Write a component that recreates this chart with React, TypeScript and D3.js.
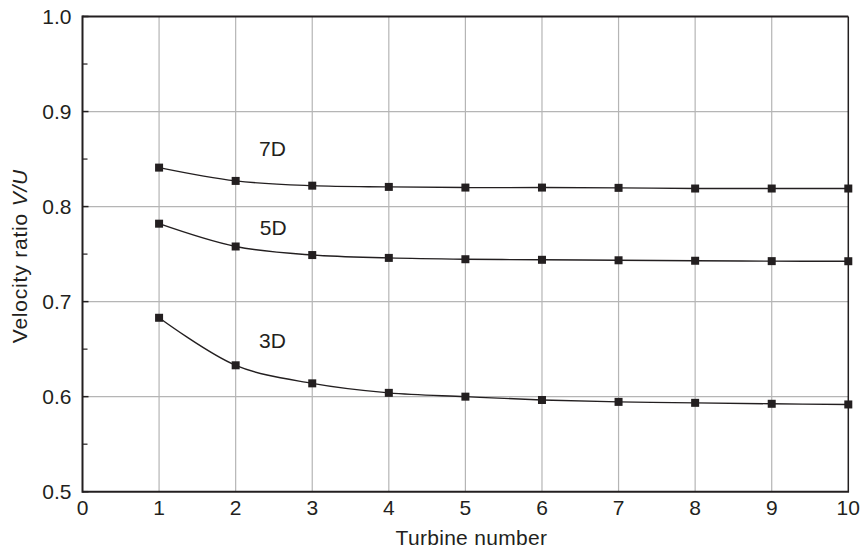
import React from "react";
import * as d3 from "d3";

const turbines = [1, 2, 3, 4, 5, 6, 7, 8, 9, 10];
const spacing7D = [0.841, 0.827, 0.822, 0.8207, 0.820, 0.820, 0.8197, 0.819, 0.819, 0.819];
const spacing5D = [0.782, 0.758, 0.749, 0.746, 0.7446, 0.744, 0.7435, 0.743, 0.7426, 0.7425];
const spacing3D = [0.683, 0.633, 0.614, 0.604, 0.600, 0.5965, 0.5945, 0.5935, 0.5925, 0.5918];
const seriesNames = ["7D", "5D", "3D"];
const labelPos = [
  [2.48, 0.853],
  [2.49, 0.770],
  [2.48, 0.651],
];
const xTicks = [0, 1, 2, 3, 4, 5, 6, 7, 8, 9, 10];
const yTicks = [0.5, 0.6, 0.7, 0.8, 0.9, 1.0];
const yMinorTicks = [0.55, 0.65, 0.75, 0.85, 0.95];

const W = 862;
const H = 551;
const left = 82.5;
const right = 848.3;
const top = 16.5;
const bottom = 491.7;

export default function App() {
  const x = d3.scaleLinear().domain([0, 10]).range([left, right]);
  const y = d3.scaleLinear().domain([0.5, 1.0]).range([bottom, top]);
  const line = d3
    .line<number>()
    .x((_, i) => x(turbines[i]))
    .y((d) => y(d))
    .curve(d3.curveCatmullRom.alpha(0.5));
  const allSeries = [spacing7D, spacing5D, spacing3D];
  const font = "'Liberation Sans', Arial, Helvetica, sans-serif";
  const ink = "#231f20";
  return (
    <svg
      width={W}
      height={H}
      style={{ position: "absolute", left: 0, top: 0, background: "#fff" }}
      fontFamily={font}
    >
      <rect x={0} y={0} width={W} height={H} fill="#fff" />
      {/* grid */}
      {xTicks.slice(1, -1).map((t) => (
        <line key={"gx" + t} x1={x(t)} x2={x(t)} y1={top} y2={bottom} stroke="#b5b5b5" strokeWidth={1.2} />
      ))}
      {yTicks.slice(1, -1).map((t) => (
        <line key={"gy" + t} x1={left} x2={right} y1={y(t)} y2={y(t)} stroke="#b5b5b5" strokeWidth={1.2} />
      ))}
      {/* frame */}
      <line x1={right} x2={right} y1={top} y2={bottom} stroke={ink} strokeWidth={1.5} />
      <line x1={left} x2={right} y1={top} y2={top} stroke={ink} strokeWidth={1.8} />
      <line x1={left} x2={right + 0.75} y1={bottom} y2={bottom} stroke={ink} strokeWidth={2} />
      <line x1={left} x2={left} y1={top - 0.9} y2={bottom + 1} stroke={ink} strokeWidth={2} />
      {/* y ticks */}
      {yTicks.map((t) => (
        <line key={"ty" + t} x1={left} x2={left + 6} y1={y(t)} y2={y(t)} stroke={ink} strokeWidth={1.5} />
      ))}
      {yMinorTicks.map((t) => (
        <line key={"tm" + t} x1={left} x2={left + 5} y1={y(t)} y2={y(t)} stroke={ink} strokeWidth={1.2} />
      ))}
      {yTicks.map((t) => (
        <text key={"ly" + t} x={left - 11} y={y(t)} dy="0.36em" textAnchor="end" fontSize={21} fill={ink}>
          {t.toFixed(1)}
        </text>
      ))}
      {xTicks.map((t) => (
        <text key={"lx" + t} x={x(t)} y={bottom + 23} textAnchor="middle" fontSize={21} fill={ink}>
          {t}
        </text>
      ))}
      {/* axis titles */}
      <text
        x={(left + right) / 2 + 6}
        y={545}
        textAnchor="middle"
        fontSize={21}
        letterSpacing={0.3}
        fill={ink}
      >
        Turbine number
      </text>
      <text
        transform={`translate(27, ${(top + bottom) / 2 + 2}) rotate(-90)`}
        textAnchor="middle"
        fontSize={21}
        letterSpacing={0.8}
        fill={ink}
      >
        Velocity ratio <tspan fontStyle="italic">V/U</tspan>
      </text>
      {/* series */}
      {allSeries.map((s, si) => (
        <g key={"s" + si}>
          <path d={line(s) || ""} fill="none" stroke={ink} strokeWidth={1.4} />
          {s.map((v, i) => (
            <rect
              key={i}
              x={x(turbines[i]) - 4}
              y={y(v) - 4}
              width={8}
              height={8}
              fill={ink}
            />
          ))}
          <text
            x={x(labelPos[si][0])}
            y={y(labelPos[si][1])}
            textAnchor="middle"
            fontSize={21}
            fill={ink}
          >
            {seriesNames[si]}
          </text>
        </g>
      ))}
    </svg>
  );
}
